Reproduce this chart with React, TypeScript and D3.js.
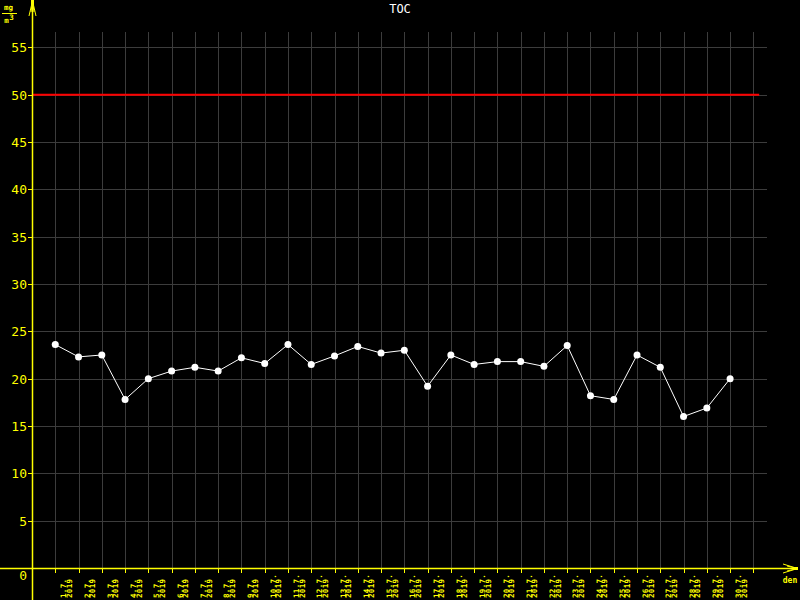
import React from "react";
import * as d3 from "d3";

const title = "TOC";
const days = d3.range(1, 31);
const values = [
  23.6, 22.3, 22.5, 17.8, 20.0, 20.8, 21.2, 20.8, 22.2, 21.6,
  23.6, 21.5, 22.4, 23.4, 22.7, 23.0, 19.2, 22.5, 21.5, 21.8,
  21.8, 21.3, 23.5, 18.2, 17.8, 22.5, 21.2, 16.0, 16.9, 20.0,
];
const limitValue = 50;
const yTicks = [0, 5, 10, 15, 20, 25, 30, 35, 40, 45, 50, 55];
const gridDays = d3.range(1, 32);
const labelDays = d3.range(1, 31);
const month = 7;
const year = 2019;

const W = 800;
const H = 600;
const YEL = "#ffff00";
const GRID = "#3c3c3c";
const FONT = "'DejaVu Sans Mono', monospace";

export default function App() {
  const x = d3.scaleLinear().domain([0, 32]).range([32, 32 + 32 * 23.27]);
  const y = d3.scaleLinear().domain([0, 55]).range([568, 47.3]);
  const line = d3
    .line<number>()
    .x((_, i) => x(days[i]))
    .y((v) => y(v));

  const x0 = x(0);
  const y0 = y(0);
  const gridEnd = x(31.6);

  return (
    <svg
      width={W}
      height={H}
      style={{ position: "absolute", left: 0, top: 0, background: "#000" }}
    >
      <rect x={0} y={0} width={W} height={H} fill="#000" />
      {/* horizontal grid */}
      {yTicks
        .filter((t) => t > 0)
        .map((t) => (
          <line key={"h" + t} x1={x0} x2={gridEnd} y1={Math.round(y(t)) + 0.5} y2={Math.round(y(t)) + 0.5} stroke={GRID} strokeWidth={1} shapeRendering="crispEdges" />
        ))}
      {/* vertical grid */}
      {gridDays.map((d) => (
        <line key={"v" + d} x1={Math.round(x(d)) + 0.5} x2={Math.round(x(d)) + 0.5} y1={32} y2={y0} stroke={GRID} strokeWidth={1} shapeRendering="crispEdges" />
      ))}
      {/* limit line */}
      <line x1={x0} x2={x(31.25)} y1={y(limitValue)} y2={y(limitValue)} stroke="#ff0000" strokeWidth={2} />
      {/* data line */}
      <path d={line(values) || ""} fill="none" stroke="#fff" strokeWidth={1} />
      {values.map((v, i) => (
        <circle key={"p" + i} cx={x(days[i])} cy={y(v)} r={3.5} fill="#fff" />
      ))}
      {/* axes */}
      <line x1={32.5} x2={32.5} y1={0} y2={H} stroke={YEL} strokeWidth={1.5} />
      <line x1={0} x2={797} y1={y0 + 0.5} y2={y0 + 0.5} stroke={YEL} strokeWidth={1.5} />
      {/* y arrow */}
      <rect x={31} y={0} width={3} height={5} fill={YEL} />
      <path d="M32,3 L29,16 M33,3 L36,16 M32,4 L31,12 M33,4 L34,12" stroke={YEL} strokeWidth={1} fill="none" />
      {/* x arrow */}
      <rect x={793} y={567} width={5} height={3} fill={YEL} />
      <path d="M796,568 L783,564 M796,569 L783,573 M795,568 L787,566 M795,569 L787,571" stroke={YEL} strokeWidth={1} fill="none" />
      {/* y ticks */}
      {yTicks.map((t) => (
        <g key={"yt" + t}>
          <line x1={28} x2={32} y1={Math.round(y(t)) + 0.5} y2={Math.round(y(t)) + 0.5} stroke={YEL} strokeWidth={1} />
          <text x={27} y={t === 0 ? y(t) + 12 : y(t) + 5} textAnchor="end" fill={YEL} fontFamily={FONT} fontSize={13}>
            {t}
          </text>
        </g>
      ))}
      {/* x ticks */}
      {gridDays.map((d) => (
        <line key={"xt" + d} x1={Math.round(x(d)) + 0.5} x2={Math.round(x(d)) + 0.5} y1={y0} y2={y0 + 5} stroke={YEL} strokeWidth={1} />
      ))}
      {labelDays.map((d) => (
        <text
          key={"xl" + d}
          transform={`translate(${x(d + 0.5) - 0.5},598) rotate(-90)`}
          fill={YEL}
          fontFamily={FONT}
          fontSize={7.5}
          fontWeight="bold"
          letterSpacing={0.3}
        >
          <tspan x={0} dy={0}>{`${d}.${month}.`}</tspan>
          <tspan x={0} dy={5.5}>{`${year}`}</tspan>
        </text>
      ))}
      {/* unit label */}
      <text x={8.5} y={9.5} textAnchor="middle" fill={YEL} fontFamily={FONT} fontSize={7.5} fontWeight="bold">mg</text>
      <line x1={2} x2={17} y1={13.5} y2={13.5} stroke={YEL} strokeWidth={1} />
      <text x={6.5} y={23} textAnchor="middle" fill={YEL} fontFamily={FONT} fontSize={7.5} fontWeight="bold">m</text>
      <text x={11.5} y={20} textAnchor="middle" fill={YEL} fontFamily={FONT} fontSize={7.5} fontWeight="bold">3</text>
      <text x={790} y={583} textAnchor="middle" fill={YEL} fontFamily={FONT} fontSize={8} fontWeight="bold">den</text>
      {/* title */}
      <text x={400} y={13} textAnchor="middle" fill="#fff" fontFamily={FONT} fontSize={12}>{title}</text>
    </svg>
  );
}
